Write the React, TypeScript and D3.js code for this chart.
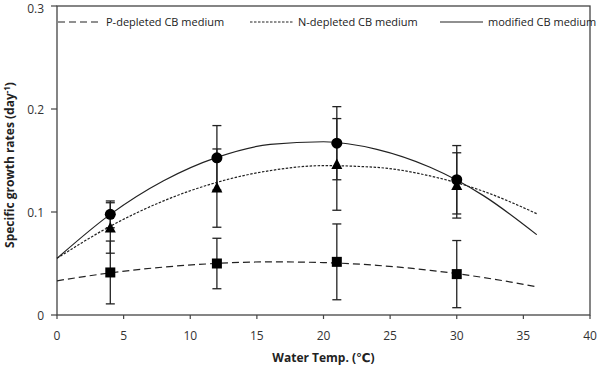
import React from "react";
import * as d3 from "d3";

// measured temperatures
const temps = [4, 12, 21, 30];

// means and error bars
const modMean = [0.0977, 0.1526, 0.1668, 0.1313];
const modErr = [0.013, 0.0313, 0.0355, 0.0332];
const nMean = [0.0845, 0.1232, 0.1462, 0.1258];
const nErr = [0.0245, 0.038, 0.0445, 0.0317];
const pMean = [0.0413, 0.05, 0.0516, 0.0397];
const pErr = [0.0305, 0.0245, 0.0368, 0.0326];

// trend curves sampled along x
const curveX = [0, 4, 8, 12, 16, 20, 24, 28, 32, 36];
const modCurve = [0.055, 0.0977, 0.1303, 0.153, 0.1656, 0.1682, 0.1608, 0.1434, 0.1159, 0.078];
const nCurve = [0.055, 0.0862, 0.1108, 0.1288, 0.1402, 0.145, 0.1433, 0.135, 0.1201, 0.0984];
const pCurve = [0.0332, 0.0409, 0.0465, 0.0501, 0.0516, 0.0509, 0.0482, 0.0434, 0.0364, 0.0274];

const xTicks = [0, 5, 10, 15, 20, 25, 30, 35, 40];
const yTicks = [0, 0.1, 0.2, 0.3];
const yTickLabels = ["0", "0.1", "0.2", "0.3"];

const W = 600;
const H = 367;
const left = 57;
const right = 590;
const top = 6;
const bottom = 315;
const axisColor = "#444";
const font = "'Open Sans', 'DejaVu Sans', sans-serif";

const x = d3.scaleLinear().domain([0, 40]).range([left, right]);
const y = d3.scaleLinear().domain([0, 0.3]).range([bottom, top]);

const line = d3
  .line<number>()
  .x((d, i) => x(curveX[i]))
  .y((d) => y(d))
  .curve(d3.curveMonotoneX);

const ErrorBars = ({ means, errs }: { means: number[]; errs: number[] }) => (
  <g stroke="#222" strokeWidth={1.3}>
    {means.map((m, i) => {
      const cx = x(temps[i]);
      const hi = y(m + errs[i]);
      const lo = y(m - errs[i]);
      return (
        <g key={i}>
          <line x1={cx} x2={cx} y1={hi} y2={lo} />
          <line x1={cx - 4.5} x2={cx + 4.5} y1={hi} y2={hi} />
          <line x1={cx - 4.5} x2={cx + 4.5} y1={lo} y2={lo} />
        </g>
      );
    })}
  </g>
);

const legend = [
  { label: "P-depleted CB medium", dash: "7,4", x0: 58 },
  { label: "N-depleted CB medium", dash: "2.5,1.5", x0: 250 },
  { label: "modified CB medium", dash: "none", x0: 440 },
];

export default function App() {
  return (
    <svg
      width={W}
      height={H}
      style={{ position: "absolute", left: 0, top: 0, background: "#fff" }}
      fontFamily={font}
    >
      {/* frame */}
      <rect x={left} y={top} width={right - left} height={bottom - top} fill="none" stroke={axisColor} strokeWidth={1.3} />

      {/* x axis ticks */}
      {xTicks.map((t) => (
        <g key={t}>
          <line x1={x(t)} x2={x(t)} y1={bottom} y2={bottom + 4} stroke={axisColor} strokeWidth={1.2} />
          <text x={x(t)} y={bottom + 25} textAnchor="middle" fontSize={12} fill="#333">
            {t}
          </text>
        </g>
      ))}
      {/* y axis ticks */}
      {yTicks.map((t, i) => (
        <g key={t}>
          <line x1={left - 6} x2={left} y1={y(t)} y2={y(t)} stroke={axisColor} strokeWidth={1.2} />
          <text x={left - 13} y={Math.max(y(t) + 4.5, 13)} textAnchor="end" fontSize={12} fill="#333">
            {yTickLabels[i]}
          </text>
        </g>
      ))}

      <text x={x(20)} y={362} textAnchor="middle" fontSize={12} fontWeight="bold" fill="#222">
        Water Temp. (℃)
      </text>
      <text
        transform="translate(14, 165) rotate(-90)"
        textAnchor="middle"
        fontSize={12}
        fontWeight="bold"
        fill="#222"
      >
        Specific growth rates (day
        <tspan dy={-4} fontSize={8}>-1</tspan>
        <tspan dy={4}>)</tspan>
      </text>

      {/* curves */}
      <path d={line(pCurve) || ""} fill="none" stroke="#222" strokeWidth={1.2} strokeDasharray="7,4" />
      <path d={line(nCurve) || ""} fill="none" stroke="#222" strokeWidth={1.2} strokeDasharray="2.5,1.5" />
      <path d={line(modCurve) || ""} fill="none" stroke="#222" strokeWidth={1.2} />

      <ErrorBars means={pMean} errs={pErr} />
      <ErrorBars means={nMean} errs={nErr} />
      <ErrorBars means={modMean} errs={modErr} />

      {/* markers */}
      {pMean.map((m, i) => (
        <rect key={"p" + i} x={x(temps[i]) - 5} y={y(m) - 5} width={10} height={10} fill="#000" />
      ))}
      {nMean.map((m, i) => {
        const cx = x(temps[i]);
        const cy = y(m);
        return <path key={"n" + i} d={`M${cx},${cy - 6}L${cx + 5.5},${cy + 4.5}L${cx - 5.5},${cy + 4.5}Z`} fill="#000" />;
      })}
      {modMean.map((m, i) => (
        <circle key={"m" + i} cx={x(temps[i])} cy={y(m)} r={5.5} fill="#000" />
      ))}

      {/* legend */}
      {legend.map((l) => (
        <g key={l.label}>
          <line x1={l.x0} x2={l.x0 + 43} y1={22} y2={22} stroke="#222" strokeWidth={1.2} strokeDasharray={l.dash} />
          <text x={l.x0 + 48} y={26} fontSize={11} fill="#222">
            {l.label}
          </text>
        </g>
      ))}
    </svg>
  );
}
